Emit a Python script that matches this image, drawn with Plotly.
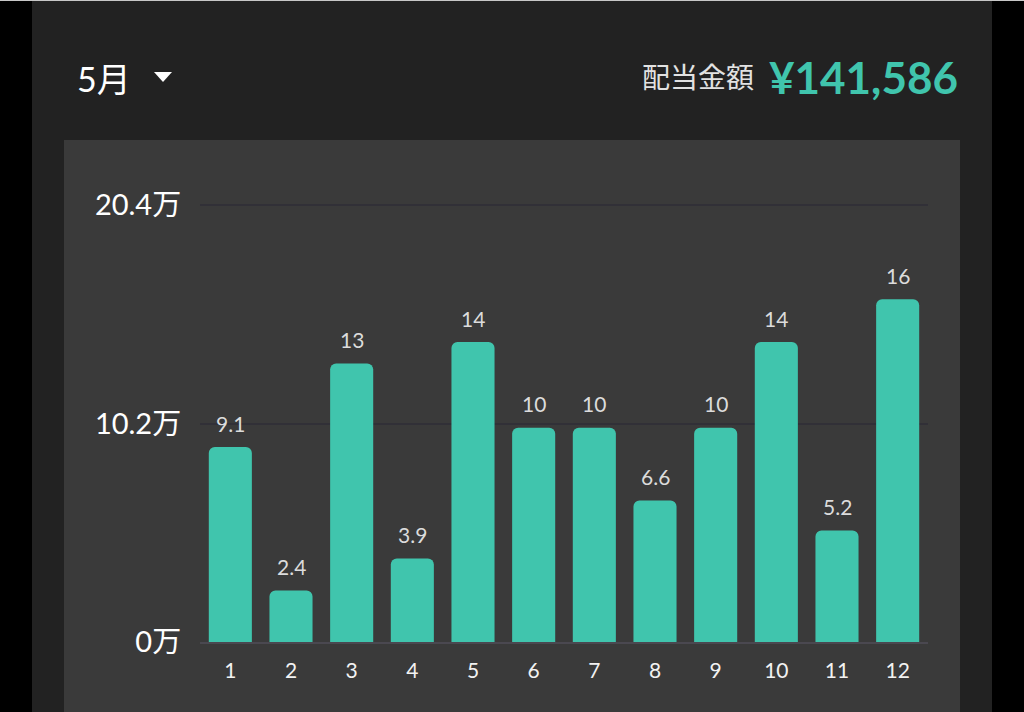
import plotly.graph_objects as go

months = [str(i) for i in range(1, 13)]
values = [9.1, 2.4, 13, 3.9, 14, 10, 10, 6.6, 10, 14, 5.2, 16]
value_labels = ["9.1", "2.4", "13", "3.9", "14", "10", "10", "6.6", "10", "14", "5.2", "16"]
y_tickvals = [0, 10.2, 20.4]
y_ticktext = ["0万", "10.2万", "20.4万"]
month_title = "5月"
total_label = "配当金額"
total_value = "¥141,586"

W, H = 1024, 712
FONT = "Lato, 'Noto Sans CJK JP', sans-serif"
TEAL = "#40c5ad"

Y_MAX = 20.4
Y_TOP = 20.7           # a little headroom so the top gridline is drawn
BASE_PX, TOP_PX = 642, 205
unit_px = (BASE_PX - TOP_PX) / Y_MAX
dom_top_px = BASE_PX - Y_TOP * unit_px


def px(x):
    return x / W


def py(y):
    return 1 - y / H


fig = go.Figure()
fig.add_trace(go.Bar(
    x=months, y=values,
    marker=dict(color=TEAL, line=dict(width=0), cornerradius=6),
    hoverinfo="skip",
))

for i, (v, t) in enumerate(zip(values, value_labels)):
    fig.add_annotation(x=i, y=v, xref="x", yref="y", text=t, showarrow=False,
                       yanchor="middle", yshift=24,
                       font=dict(family=FONT, size=21, color="#dcdcdc"))

shapes = [
    dict(type="rect", xref="paper", yref="paper", x0=0, x1=1, y0=py(1), y1=1,
         fillcolor="#c8c8c8", line=dict(width=0), layer="below"),
    dict(type="rect", xref="paper", yref="paper", x0=px(32), x1=px(992), y0=0, y1=py(1),
         fillcolor="#222222", line=dict(width=0), layer="below"),
    dict(type="rect", xref="paper", yref="paper", x0=px(64), x1=px(960), y0=0, y1=py(140),
         fillcolor="#3a3a3a", line=dict(width=0), layer="below"),
    dict(type="path", xref="paper", yref="paper",
         path=f"M {px(154)} {py(72)} L {px(172)} {py(72)} L {px(163)} {py(82)} Z",
         fillcolor="#ffffff", line=dict(width=0)),
]

annotations_hdr = [
    dict(x=px(75), y=py(78), xref="paper", yref="paper", text=month_title, showarrow=False,
         xanchor="left", yanchor="middle", font=dict(family=FONT, size=34, color="#ffffff")),
    dict(x=px(756), y=py(77), xref="paper", yref="paper", text=total_label, showarrow=False,
         xanchor="right", yanchor="middle", font=dict(family=FONT, size=28, color="#e2e2e2")),
    dict(x=px(960), y=py(77), xref="paper", yref="paper", text=f"<b>{total_value}</b>",
         showarrow=False, xanchor="right", yanchor="middle",
         font=dict(family=FONT, size=44, color=TEAL)),
]
for a in annotations_hdr:
    fig.add_annotation(**a)

fig.update_layout(
    width=W, height=H,
    autosize=False,
    margin=dict(l=0, r=0, t=0, b=0, pad=0),
    paper_bgcolor="#000000",
    plot_bgcolor="rgba(0,0,0,0)",
    showlegend=False,
    bargap=0.29,
    shapes=shapes,
    xaxis=dict(
        domain=[px(200), px(928)],
        type="category",
        showgrid=False, zeroline=False,
        showline=True, linecolor="#4a4850", linewidth=2,
        ticks="outside", ticklen=9, tickcolor="rgba(0,0,0,0)",
        tickfont=dict(family=FONT, size=21, color="#f2f2f2"),
        automargin=False,
        fixedrange=True,
    ),
    yaxis=dict(
        domain=[1 - BASE_PX / H, 1 - dom_top_px / H],
        range=[0, Y_TOP],
        tickvals=y_tickvals, ticktext=y_ticktext,
        showgrid=True, gridcolor="#313037", gridwidth=2,
        zeroline=False, showline=False,
        ticks="outside", ticklen=12, tickcolor="rgba(0,0,0,0)",
        tickfont=dict(family=FONT, size=29, color="#ffffff"),
        automargin=False,
        fixedrange=True,
    ),
)

post = (
    "document.documentElement.style.margin='0';"
    "document.documentElement.style.padding='0';"
    "document.documentElement.style.background='#000';"
    "document.body.style.margin='0';"
    "document.body.style.padding='0';"
    "document.body.style.overflow='hidden';"
    "document.body.style.background='#000';"
)

fig.write_html("out.html", config=dict(displayModeBar=False), post_script=post)
